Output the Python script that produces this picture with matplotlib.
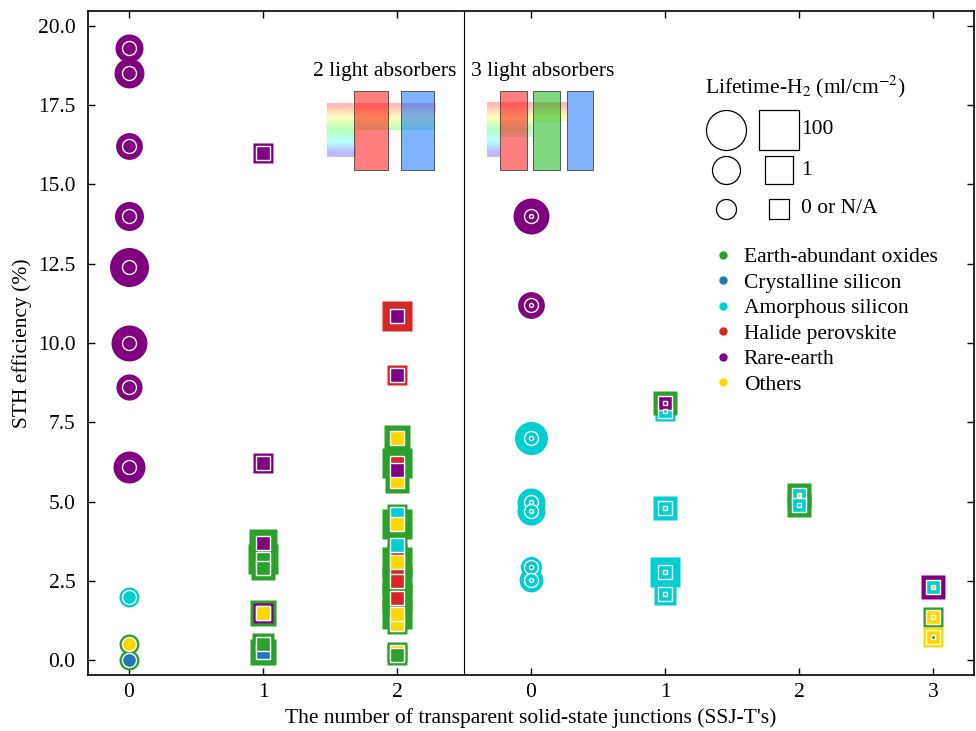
import numpy as np
import matplotlib
matplotlib.use("Agg")
import matplotlib.pyplot as plt
from matplotlib.lines import Line2D
from matplotlib.patches import Rectangle

plt.rcParams['font.family'] = ['Liberation Serif', 'DejaVu Serif']
plt.rcParams['mathtext.fontset'] = 'stix'
FS = 15.5

# ---------------- data ----------------
materials = ['Earth-abundant oxides', 'Crystalline silicon', 'Amorphous silicon',
             'Halide perovskite', 'Rare-earth', 'Others']
material_codes = ['E', 'C', 'A', 'H', 'R', 'O']
material_colors = ['#2ca02c', '#1f77b4', '#00ced1', '#d62728', '#800080', '#ffd700']

# 2 light absorbers (left panel)
two_ssjt = [0, 0, 0, 0, 0, 0, 0, 0, 0, 0, 0,
            1, 1, 1, 1, 1, 1, 1, 1, 1,
            2, 2, 2, 2, 2, 2, 2, 2, 2, 2, 2, 2, 2, 2, 2, 2, 2, 2]
two_sth = [19.3, 18.5, 16.2, 14.0, 12.4, 10.0, 8.6, 6.1, 2.0, 0.5, 0.0,
           16.0, 6.2, 3.7, 3.2, 2.9, 1.5, 1.5, 0.25, 0.5,
           10.85, 9.0, 7.0, 6.2, 5.65, 6.0, 4.6, 4.3, 3.35, 2.8, 3.63, 3.09,
           2.49, 1.97, 1.15, 1.45, 0.27, 0.16]
two_outer = ['R', 'R', 'R', 'R', 'R', 'R', 'R', 'R', 'A', 'E', 'E',
             'R', 'R', 'E', 'E', 'E', 'E', 'R', 'E', 'E',
             'H', 'H', 'E', 'E', 'E', 'E', 'E', 'E', 'E', 'E', 'E', 'E',
             'E', 'E', 'E', 'E', 'E', 'E']
two_inner = ['R', 'R', 'R', 'R', 'R', 'R', 'R', 'R', 'A', 'O', 'C',
             'R', 'R', 'R', 'E', 'E', 'R', 'O', 'C', 'E',
             'R', 'R', 'O', 'H', 'O', 'R', 'A', 'O', 'H', 'H', 'A', 'O',
             'H', 'H', 'O', 'O', 'O', 'E']
two_life = [1.0, 2.8, 0.8, 1.8, 72, 26, 0.7, 6.4, 0, 0, 0,
            0, 0, 1.0, 4.3, 0.4, 0.7, 0, 0.7, 0.2,
            1.8, 0, 0.7, 2.8, 0.4, 0, 0, 1.8, 0, 0, 0, 1.8,
            1.8, 1.8, 0, 1.8, 0, 0]

# 3 light absorbers (right panel)
three_ssjt = [0, 0, 0, 0, 0, 0, 0,
              1, 1, 1, 1, 1,
              2, 2,
              3, 3, 3]
three_sth = [14.0, 11.2, 7.0, 4.98, 4.7, 2.93, 2.52,
             7.85, 8.1, 4.8, 2.79, 2.08,
             5.2, 4.9,
             2.3, 1.36, 0.74]
three_outer = ['R', 'R', 'A', 'A', 'A', 'A', 'A',
               'A', 'E', 'A', 'A', 'A',
               'E', 'E',
               'R', 'E', 'O']
three_middle = ['R', 'R', 'A', 'A', 'A', 'A', 'A',
                'A', 'R', 'A', 'A', 'A',
                'A', 'A',
                'A', 'O', 'O']
three_inner = ['R', 'R', 'C', 'A', 'A', 'C', 'A',
               'A', 'R', 'A', 'A', 'A',
               'O', 'A',
               'O', 'O', 'E']
three_life = [26, 0.8, 9.3, 1.0, 1.0, 0.1, 0.4,
              0, 0.4, 0.4, 1.8, 0.2,
              0.4, 0.4,
              0.4, 0, 0]

x_tick_labels = ['0', '1', '2', '0', '1', '2', '3']
legend_life = [100, 1, 0]
legend_life_labels = ['100', '1', '0 or N/A']

# ---------------- helpers ----------------
cmap = dict(zip(material_codes, material_colors))
PX2PT = 72 / 100.0


def outer_size(L):
    d_px = np.interp(np.log10(np.asarray(L, dtype=float) + 1),
                     [0, np.log10(2), np.log10(101)], [20, 28, 40])
    return d_px * PX2PT


MID = 14 * PX2PT
TINY = 4 * PX2PT


def shape_of(n):
    return 'o' if n == 0 else 's'


fig = plt.figure(figsize=(9.76, 7.31), dpi=100)
ax = fig.add_axes([88 / 976, 1 - 675 / 731, 886 / 976, 664 / 731])


def mk(x, y, code, shape, size, z, edge):
    ax.plot([x], [y], marker=shape, ms=size, mfc=cmap[code],
            mec='white' if edge else 'none', mew=1.0, ls='none', zorder=z)


# left panel
for n, y, o, L in zip(two_ssjt, two_sth, two_outer, two_life):
    mk(n, y, o, shape_of(n), outer_size(L), 3, False)
for n, y, i in zip(two_ssjt, two_sth, two_inner):
    mk(n, y, i, shape_of(n), MID, 4, True)

# right panel
for n, y, o, L in zip(three_ssjt, three_sth, three_outer, three_life):
    mk(n + 3, y, o, shape_of(n), outer_size(L), 3, False)
for n, y, m in zip(three_ssjt, three_sth, three_middle):
    mk(n + 3, y, m, shape_of(n), MID, 4, True)
for n, y, i in zip(three_ssjt, three_sth, three_inner):
    mk(n + 3, y, i, shape_of(n), TINY, 5, True)

ax.axvline(2.5, color='black', lw=0.8, zorder=1)

# ---------------- illustrations ----------------
rb = plt.get_cmap('gist_rainbow')


def rainbow(x0, x1, ytop, ybot, f0, f1):
    fr = np.linspace(f0, f1, 64) * 0.82
    cols = rb(fr)
    cols[:, 3] = 0.28
    ax.imshow(cols[:, None, :], extent=(x0, x1, ybot, ytop), aspect='auto',
              origin='upper', interpolation='bilinear', zorder=1)


def absorber(x0, x1, color):
    ax.add_patch(Rectangle((x0, 15.46), x1 - x0, 17.95 - 15.46,
                           facecolor=color, edgecolor='#555555', lw=0.7, zorder=2))


# 2 light absorbers
rainbow(1.478, 2.284, 17.57, 16.72, 0.0, 0.5)
rainbow(1.478, 1.687, 16.72, 15.87, 0.5, 1.0)
absorber(1.679, 1.933, (1, 0, 0, 0.5))
absorber(2.03, 2.276, (0.0, 0.4, 1.0, 0.5))
# 3 light absorbers
rainbow(2.672, 3.269, 17.57, 17.0, 0.0, 1 / 3)
rainbow(2.672, 3.015, 17.0, 16.5, 1 / 3, 2 / 3)
rainbow(2.672, 2.769, 16.5, 15.87, 2 / 3, 1.0)
absorber(2.769, 2.970, (1, 0, 0, 0.5))
absorber(3.015, 3.216, (0.0, 0.7, 0.0, 0.5))
absorber(3.269, 3.463, (0.0, 0.4, 1.0, 0.5))

ax.text(2.44, 18.55, '2 light absorbers', ha='right', va='center', fontsize=FS)
ax.text(2.555, 18.55, '3 light absorbers', ha='left', va='center', fontsize=FS)

# ---------------- axes ----------------
ax.set_xlim(-0.306, 6.306)
ax.set_ylim(-0.47, 20.47)
ax.set_xticks(range(7))
ax.set_xticklabels(x_tick_labels)
ax.set_yticks(np.arange(0, 20.01, 2.5))
ax.yaxis.set_major_formatter(plt.FormatStrFormatter('%.1f'))
ax.tick_params(direction='in', top=True, right=True, length=5, width=1.0,
               labelsize=FS)
ax.tick_params(axis='x', pad=6)
ax.tick_params(axis='y', pad=9)
for s in ax.spines.values():
    s.set_linewidth(1.2)
ax.set_xlabel("The number of transparent solid-state junctions (SSJ-T's)", fontsize=FS)
ax.set_ylabel('STH efficiency (%)', fontsize=FS)

# colour legend
handles = [Line2D([], [], marker='o', ls='none', color=c, markersize=5)
           for c in material_colors]
ax.legend(handles, materials, loc='upper left', bbox_to_anchor=(0.705, 0.644),
          frameon=False, fontsize=FS, handlelength=1.0, handletextpad=0.45,
          labelspacing=0.25, borderpad=0, borderaxespad=0)

# lifetime legend
ax.text(0.696, 0.8855, r'Lifetime-H$_2$ (ml/cm$^{-2}$)', transform=ax.transAxes,
        ha='left', va='center', fontsize=FS)
row_y = [0.821, 0.7605, 0.702]
for L, lab, yy in zip(legend_life, legend_life_labels, row_y):
    s = outer_size(L)
    ax.plot([0.720], [yy], marker='o', ms=s, mfc='none', mec='black', mew=0.9,
            transform=ax.transAxes, clip_on=False, ls='none')
    ax.plot([0.780], [yy], marker='s', ms=s, mfc='none', mec='black', mew=0.9,
            transform=ax.transAxes, clip_on=False, ls='none')
    ax.text(0.805, yy, lab, transform=ax.transAxes, ha='left', va='center', fontsize=FS)

fig.savefig('out.png', dpi=100)
